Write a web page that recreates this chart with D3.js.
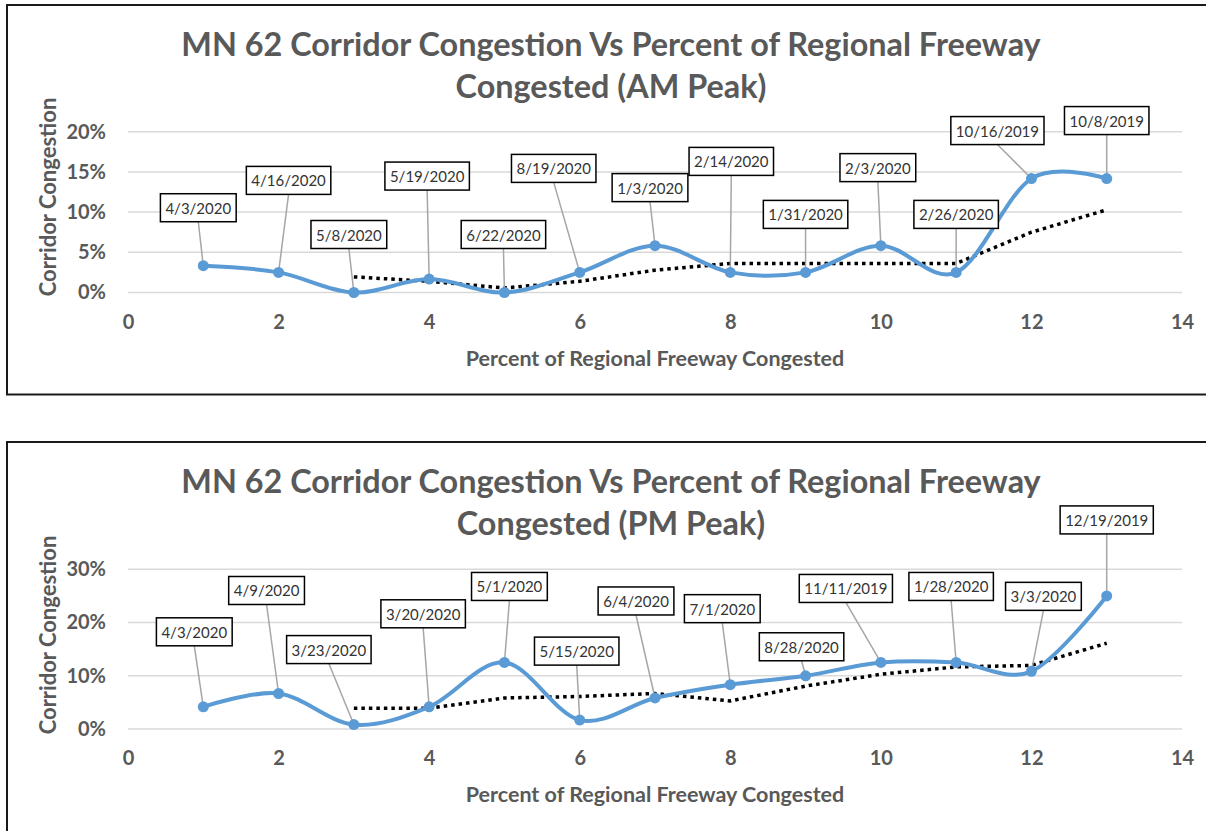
<!DOCTYPE html>
<html>
<head>
<meta charset="utf-8">
<script src="https://cdn.jsdelivr.net/npm/d3@7"></script>
<style>
  body { margin: 0; background: #fff; }
  svg text { font-family: Lato, "Open Sans", sans-serif; }
</style>
</head>
<body>
<script>
// x values (percent of regional freeway congested)
let xValues = [1, 2, 3, 4, 5, 6, 7, 8, 9, 10, 11, 12, 13];
let trendX = [3, 4, 5, 6, 7, 8, 9, 10, 11, 12, 13];
let xTicks = [0, 2, 4, 6, 8, 10, 12, 14];

// AM peak
let amDates = ['4/3/2020', '4/16/2020', '5/8/2020', '5/19/2020', '6/22/2020', '8/19/2020', '1/3/2020',
  '2/14/2020', '1/31/2020', '2/3/2020', '2/26/2020', '10/16/2019', '10/8/2019'];
let amValues = [3.33, 2.5, 0, 1.67, 0, 2.5, 5.83, 2.5, 2.5, 5.83, 2.5, 14.17, 14.17];
let amTrend = [1.94, 1.39, 0.56, 1.39, 2.78, 3.61, 3.61, 3.61, 3.61, 7.5, 10.28];
let amTicks = [0, 5, 10, 15, 20];

// PM peak
let pmDates = ['4/3/2020', '4/9/2020', '3/23/2020', '3/20/2020', '5/1/2020', '5/15/2020', '6/4/2020',
  '7/1/2020', '8/28/2020', '11/11/2019', '1/28/2020', '3/3/2020', '12/19/2019'];
let pmValues = [4.17, 6.67, 0.83, 4.17, 12.5, 1.67, 5.83, 8.33, 10, 12.5, 12.5, 10.83, 25];
let pmTrend = [3.89, 3.89, 5.83, 6.11, 6.67, 5.28, 8.06, 10.28, 11.67, 11.94, 16.11];
let pmTicks = [0, 10, 20, 30];

// label box offsets from each point (layout only)
let amLabelOffset = [[-5,-58],[10,-92],[-5,-58],[-2,-103],[-1,-58],[-26,-104],[-5,-58],
  [1,-111],[0,-58],[-3,-78],[0,-58],[-34,-48],[0,-58]];
let pmLabelOffset = [[-9,-75],[-12,-103],[-25,-75],[-6,-93],[5,-76],[-3,-69],[-19,-97],
  [-8,-76],[-4,-29],[-35,-74],[-5,-76],[12,-75],[0,-76]];

let grey = '#595959';
let blue = '#5B9BD5';

let svg = d3.select('body').append('svg')
    .attr('width', 1206)
    .attr('height', 831);

function drawChart(opt) {
  let g = svg.append('g');

  // frame
  g.append('rect')
      .attr('x', 7).attr('y', opt.frameTop)
      .attr('width', 1220).attr('height', opt.frameBottom - opt.frameTop)
      .attr('fill', 'none')
      .attr('stroke', '#1a1a1a')
      .attr('stroke-width', 2);

  let x = d3.scaleLinear().domain([0, 14]).range([128, 1182]);
  let y = d3.scaleLinear().domain([0, opt.yMax]).range([opt.plotBottom, opt.plotTop]);

  // title
  g.selectAll('.title').data(opt.title).enter().append('text')
      .attr('x', 611)
      .attr('y', function(d, i) { return opt.titleY + i * 42; })
      .attr('text-anchor', 'middle')
      .attr('dominant-baseline', 'central')
      .attr('fill', grey)
      .attr('font-weight', 'bold')
      .attr('font-size', 32.4)
      .text(function(d) { return d; });

  // gridlines
  g.selectAll('.grid').data(opt.ticks).enter().append('line')
      .attr('x1', x(0)).attr('x2', x(14))
      .attr('y1', function(d){ return y(d); })
      .attr('y2', function(d){ return y(d); })
      .attr('stroke', '#d9d9d9')
      .attr('stroke-width', 1.5);

  // axes
  let xAxis = g.append('g')
      .attr('transform', 'translate(0,' + opt.plotBottom + ')')
      .call(d3.axisBottom(x).tickValues(xTicks).tickSize(0).tickPadding(22));
  let yAxis = g.append('g')
      .attr('transform', 'translate(' + x(0) + ',0)')
      .call(d3.axisLeft(y).tickValues(opt.ticks).tickSize(0).tickPadding(22)
        .tickFormat(function(d){ return d + '%'; }));
  [xAxis, yAxis].forEach(function(a) {
    a.select('.domain').remove();
    a.selectAll('text')
        .attr('fill', grey)
        .attr('font-weight', 'bold')
        .attr('font-size', 20)
        .style('font-family', 'Lato, sans-serif');
  });

  // axis titles
  g.append('text')
      .attr('x', 655).attr('y', opt.plotBottom + 65)
      .attr('text-anchor', 'middle')
      .attr('dominant-baseline', 'central')
      .attr('fill', grey).attr('font-weight', 'bold').attr('font-size', 21.5)
      .text('Percent of Regional Freeway Congested');
  g.append('text')
      .attr('transform', 'translate(47,' + opt.yTitleY + ') rotate(-90)')
      .attr('text-anchor', 'middle')
      .attr('dominant-baseline', 'central')
      .attr('fill', grey).attr('font-weight', 'bold').attr('font-size', 22)
      .text('Corridor Congestion');

  let points = xValues.map(function(d, i) {
    return { x: d, v: opt.values[i], date: opt.dates[i], off: opt.offsets[i] };
  });

  // moving average trendline (dotted)
  let trend = trendX.map(function(d, i) { return { x: d, v: opt.trend[i] }; });
  g.append('path')
      .datum(trend)
      .attr('fill', 'none')
      .attr('stroke', '#000')
      .attr('stroke-width', 3.5)
      .attr('stroke-dasharray', '3.5,4')
      .attr('d', d3.line()
        .x(function(d){ return x(d.x); })
        .y(function(d){ return y(d.v); }));

  // leader lines
  g.selectAll('.leader').data(points).enter().append('line')
      .attr('x1', function(d){ return x(d.x) + d.off[0]; })
      .attr('y1', function(d){ return y(d.v) + d.off[1] + 14; })
      .attr('x2', function(d){ return x(d.x); })
      .attr('y2', function(d){ return y(d.v); })
      .attr('stroke', '#a6a6a6')
      .attr('stroke-width', 1.5);

  // smoothed series line
  g.append('path')
      .datum(points)
      .attr('fill', 'none')
      .attr('stroke', blue)
      .attr('stroke-width', 4)
      .attr('stroke-linecap', 'round')
      .attr('d', d3.line()
        .curve(d3.curveCardinal.tension(0))
        .x(function(d){ return x(d.x); })
        .y(function(d){ return y(d.v); }));

  g.selectAll('.dot').data(points).enter().append('circle')
      .attr('cx', function(d){ return x(d.x); })
      .attr('cy', function(d){ return y(d.v); })
      .attr('r', 5.5)
      .attr('fill', blue);

  // date labels
  let lab = g.selectAll('.label').data(points).enter().append('g')
      .attr('transform', function(d) {
        return 'translate(' + (x(d.x) + d.off[0]) + ',' + (y(d.v) + d.off[1]) + ')';
      });
  let txt = lab.append('text')
      .attr('text-anchor', 'middle')
      .attr('dominant-baseline', 'central')
      .attr('fill', '#333')
      .attr('font-size', 15)
      .text(function(d){ return d.date; });
  lab.insert('rect', 'text')
      .each(function(d, i) {
        let w = txt.nodes()[i].getComputedTextLength() + 10;
        d3.select(this)
            .attr('x', -w / 2).attr('y', -14)
            .attr('width', w).attr('height', 28);
      })
      .attr('fill', '#fff')
      .attr('stroke', '#000')
      .attr('stroke-width', 1.5);
}

drawChart({
  frameTop: 5, frameBottom: 394.5,
  plotTop: 131.7, plotBottom: 292.5, yMax: 20,
  ticks: amTicks, values: amValues, trend: amTrend, dates: amDates, offsets: amLabelOffset,
  title: ['MN 62 Corridor Congestion Vs Percent of Regional Freeway', 'Congested (AM Peak)'],
  titleY: 43.5, yTitleY: 197
});

drawChart({
  frameTop: 442, frameBottom: 850,
  plotTop: 569.3, plotBottom: 729, yMax: 30,
  ticks: pmTicks, values: pmValues, trend: pmTrend, dates: pmDates, offsets: pmLabelOffset,
  title: ['MN 62 Corridor Congestion Vs Percent of Regional Freeway', 'Congested (PM Peak)'],
  titleY: 480, yTitleY: 635
});
</script>
</body>
</html>
